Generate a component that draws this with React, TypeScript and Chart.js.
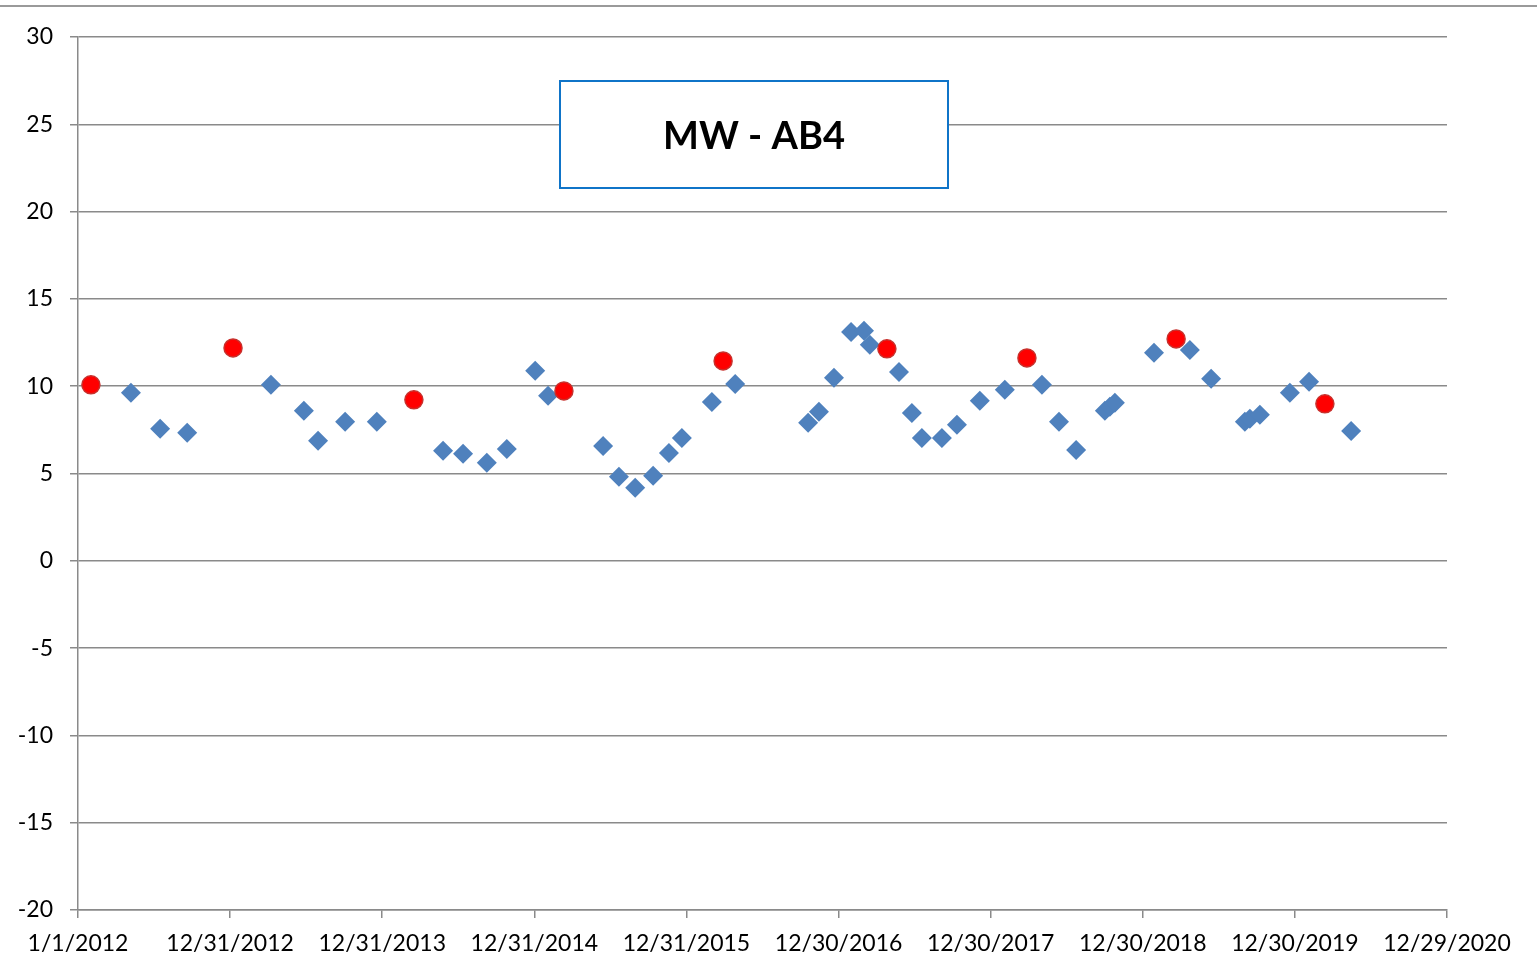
import React, { useEffect, useRef } from "react";
import { Chart, registerables } from "chart.js";

Chart.register(...registerables);

// x values: days since 1/1/2012
const blueDays = [127, 197, 262, 463, 542, 576, 641, 717, 876, 924, 981, 1029, 1097, 1128, 1260, 1298, 1337, 1380, 1418, 1449, 1521, 1577, 1752, 1778, 1814, 1855, 1886, 1900, 1970, 2001, 2025, 2073, 2109, 2164, 2224, 2313, 2354, 2395, 2464, 2476, 2488, 2582, 2668, 2719, 2800, 2812, 2836, 2908, 2954, 3055];
const blueValues = [9.62, 7.56, 7.33, 10.08, 8.59, 6.87, 7.96, 7.96, 6.3, 6.13, 5.61, 6.41, 10.88, 9.45, 6.58, 4.81, 4.18, 4.87, 6.18, 7.04, 9.1, 10.13, 7.9, 8.53, 10.48, 13.11, 13.17, 12.37, 10.82, 8.47, 7.04, 7.04, 7.79, 9.16, 9.79, 10.08, 7.96, 6.35, 8.59, 8.82, 9.05, 11.91, 12.08, 10.42, 7.96, 8.13, 8.36, 9.62, 10.25, 7.44];

const redDays = [31, 372, 806, 1166, 1548, 1941, 2277, 2635, 2992];
const redValues = [10.08, 12.19, 9.22, 9.73, 11.45, 12.14, 11.62, 12.71, 8.99];

const xTickLabels = ["1/1/2012", "12/31/2012", "12/31/2013", "12/31/2014", "12/31/2015", "12/30/2016", "12/30/2017", "12/30/2018", "12/30/2019", "12/29/2020"];
const xStepDays = 365;
const yMin = -20;
const yMax = 30;
const yStep = 5;
const chartTitle = "MW - AB4";

const FONT = "Lato, 'Open Sans', sans-serif";
const GRID = "#8a8a8a";

const decorPlugin = {
  id: "decor",
  afterDraw(chart: any) {
    const ctx = chart.ctx;
    ctx.save();
    // top border line
    ctx.strokeStyle = "#9a9a9a";
    ctx.lineWidth = 2;
    ctx.beginPath();
    ctx.moveTo(0, 6);
    ctx.lineTo(chart.width, 6);
    ctx.stroke();
    // title box
    const bx = 560, by = 81, bw = 388, bh = 107;
    ctx.fillStyle = "#ffffff";
    ctx.fillRect(bx, by, bw, bh);
    ctx.strokeStyle = "#0f74c8";
    ctx.lineWidth = 2;
    ctx.strokeRect(bx, by, bw, bh);
    ctx.fillStyle = "#000000";
    ctx.font = "bold 38px " + FONT;
    ctx.textAlign = "center";
    ctx.textBaseline = "middle";
    ctx.fillText(chartTitle, bx + bw / 2, by + bh / 2 + 2);
    ctx.restore();
  },
};

export default function App() {
  const ref = useRef<HTMLCanvasElement | null>(null);
  useEffect(() => {
    if (!ref.current) return;
    const chart = new Chart(ref.current, {
      type: "scatter",
      data: {
        datasets: [
          {
            label: "red",
            data: redDays.map((d, i) => ({ x: d, y: redValues[i] })),
            pointStyle: "circle",
            pointRadius: 9,
            pointBackgroundColor: "#ff0000",
            pointBorderColor: "#c8302c",
            pointBorderWidth: 1.5,
            showLine: false,
          },
          {
            label: "blue",
            data: blueDays.map((d, i) => ({ x: d, y: blueValues[i] })),
            pointStyle: "rectRot",
            pointRadius: 10,
            pointBackgroundColor: "#4f81bd",
            pointBorderColor: "#4f81bd",
            pointBorderWidth: 0,
            showLine: false,
          },
        ],
      },
      options: {
        animation: false,
        responsive: false,
        layout: { padding: { left: 0, right: 90, top: 37, bottom: 0 } },
        plugins: { legend: { display: false }, tooltip: { enabled: false }, title: { display: false } },
        scales: {
          x: {
            type: "linear",
            min: 0,
            max: xStepDays * (xTickLabels.length - 1),
            afterBuildTicks: (scale: any) => {
              scale.ticks = xTickLabels.map((_, i) => ({ value: i * xStepDays }));
            },
            afterFit: (scale: any) => {
              scale.height = 56;
            },
            ticks: {
              autoSkip: false,
              maxRotation: 0,
              minRotation: 0,
              padding: 12,
              color: "#000",
              font: { family: FONT, size: 23 },
              callback: (_v: any, i: number) => xTickLabels[i],
            },
            grid: { drawOnChartArea: false, drawTicks: true, tickLength: 8, color: GRID, lineWidth: 1.5 },
            border: { display: true, color: GRID, width: 1.5 },
          },
          y: {
            min: yMin,
            max: yMax,
            afterFit: (scale: any) => {
              scale.width = 78;
            },
            ticks: {
              stepSize: yStep,
              padding: 17,
              color: "#000",
              font: { family: FONT, size: 23 },
            },
            grid: { color: GRID, lineWidth: 1.5, tickLength: 8 },
            border: { display: true, color: GRID, width: 1.5 },
          },
        },
      },
      plugins: [decorPlugin],
    } as any);
    return () => chart.destroy();
  }, []);
  return (
    <canvas
      ref={ref}
      width={1537}
      height={966}
      style={{ position: "absolute", left: 0, top: 0, width: 1537, height: 966, background: "#fff" }}
    />
  );
}
